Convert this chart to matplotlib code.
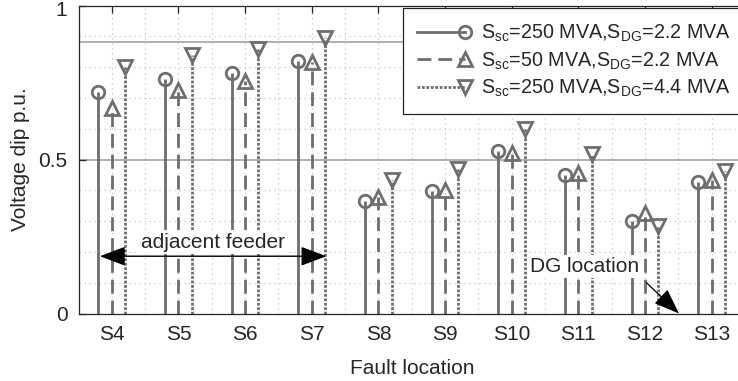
import numpy as np
import matplotlib
matplotlib.use("Agg")
import matplotlib.pyplot as plt
import matplotlib.transforms as mtransforms
from matplotlib.lines import Line2D
from matplotlib.legend_handler import HandlerLine2D

plt.rcParams['font.family'] = ['Liberation Sans', 'DejaVu Sans']
plt.rcParams['mathtext.fontset'] = 'custom'
plt.rcParams['mathtext.rm'] = 'Liberation Sans'
plt.rcParams['mathtext.it'] = 'Liberation Sans:italic'

# Fault locations and voltage dips (p.u.) for the three network cases
locations = ["S4", "S5", "S6", "S7", "S8", "S9", "S10", "S11", "S12", "S13"]
dip_sc250_dg22 = [0.72, 0.762, 0.78, 0.82, 0.366, 0.398, 0.529, 0.45, 0.30, 0.428]
dip_sc50_dg22 = [0.667, 0.726, 0.755, 0.815, 0.379, 0.40, 0.522, 0.457, 0.325, 0.433]
dip_sc250_dg44 = [0.80, 0.84, 0.86, 0.895, 0.435, 0.468, 0.60, 0.518, 0.283, 0.463]
series_labels = [
    r"S$_{\rm sc}$=250 MVA,S$_{\rm DG}$=2.2 MVA",
    r"S$_{\rm sc}$=50 MVA,S$_{\rm DG}$=2.2 MVA",
    r"S$_{\rm sc}$=250 MVA,S$_{\rm DG}$=4.4 MVA",
]
threshold = 0.88

stem_color = "#6e6e6e"
text_color = "#262626"
grid_color = "#c4c4c4"
fs = 15

fig = plt.figure(figsize=(7.38, 3.81), dpi=100)
ax = fig.add_axes([78.5 / 738, 1 - 313.5 / 381, (745 - 78.5) / 738, (313.5 - 5.5) / 381])

x = np.arange(4, 4 + len(locations))
series = [dip_sc250_dg22, dip_sc50_dg22, dip_sc250_dg44]
offsets = [-0.2, 0.0, 0.2]
styles = ["-", (0, (5, 2.5)), (0, (1, 0.6))]
markers = ["o", "^", "v"]
sizes = [9.0, 10.0, 10.0]
lw = 2.0

# grid: dotted minor lines, solid line at 0.5 and a threshold line
for gx in np.arange(3.5, 14.0, 0.5):
    ax.axvline(gx, color=grid_color, lw=0.9, ls=(0, (1, 3)), zorder=0)
for gy in [0.1, 0.2, 0.3, 0.4, 0.6, 0.7, 0.8, 0.9]:
    ax.axhline(gy, color=grid_color, lw=0.9, ls=(0, (1, 3)), zorder=0)
ax.axhline(0.5, color="#9a9a9a", lw=1.1, zorder=0.5)
ax.axhline(threshold, color="#9a9a9a", lw=1.1, zorder=0.5)

handles = []
for vals, off, ls, mk, ms, lab in zip(series, offsets, styles, markers, sizes, series_labels):
    xs = x + off
    ax.vlines(xs, 0, vals, colors=stem_color, linestyles=[ls], lw=lw, zorder=2)
    ax.plot(xs, vals, ls="none", marker=mk, ms=ms, mfc="none", mec=stem_color,
            mew=lw, zorder=3)
    handles.append(Line2D([], [], color=stem_color, ls=ls, lw=lw, marker=mk, ms=ms,
                          mfc="none", mec=stem_color, mew=lw, label=lab))


class StemHandler(HandlerLine2D):
    """Legend entry drawn as a stem: line segment with the marker at its end."""

    def create_artists(self, legend, orig_handle, xdescent, ydescent, width,
                       height, fontsize, trans):
        artists = super().create_artists(legend, orig_handle, xdescent, ydescent,
                                         width, height, fontsize, trans)
        if len(artists) == 1:
            line = artists[0]
            n = len(line.get_xdata())
            line.set_markevery([n - 1])
        else:
            line, marker = artists[0], artists[1]
            xd = line.get_xdata()
            marker.set_xdata([xd[-1]] * len(marker.get_xdata()))
        return artists


leg = ax.legend(handles=handles, loc="upper left", bbox_to_anchor=(402.5 / 738, 1 - 8 / 381),
                bbox_transform=fig.transFigure, fontsize=14.2, frameon=True, fancybox=False,
                edgecolor=text_color, framealpha=1, handlelength=2.4, handletextpad=0.85,
                borderpad=0.75, labelspacing=0.32, borderaxespad=0,
                handler_map={Line2D: StemHandler(numpoints=1)})
leg.get_frame().set_linewidth(0.9)
for t in leg.get_texts():
    t.set_color(text_color)
leg.set_zorder(10)

# annotations
ax.annotate("", xy=(3.82, 0.186), xytext=(7.22, 0.186),
            arrowprops=dict(arrowstyle="<|-|>,head_length=0.8,head_width=0.3",
                            color="black", lw=1.0, mutation_scale=20,
                            shrinkA=0, shrinkB=0), zorder=6)
ax.text(5.52, 0.232, "adjacent feeder", ha="center", va="center", fontsize=fs,
        color=text_color, zorder=6,
        bbox=dict(facecolor="white", edgecolor="none", pad=1.5))
ax.text(11.1, 0.153, "DG location", ha="center", va="center", fontsize=fs,
        color=text_color, zorder=6,
        bbox=dict(facecolor="white", edgecolor="none", pad=1.5))
ax.annotate("", xy=(12.51, 0.0), xytext=(12.02, 0.10),
            arrowprops=dict(arrowstyle="-|>,head_length=0.8,head_width=0.3",
                            color="black", lw=0.9, mutation_scale=20,
                            shrinkA=0, shrinkB=0), zorder=6)

ax.set_xlim(3.5, 13.5)
ax.set_ylim(0, 1)
ax.set_xticks(x)
ax.set_xticklabels(locations)
ax.set_yticks([0, 0.5, 1])
ax.set_yticklabels(["0", "0.5", "1"])
ax.tick_params(direction="in", top=True, right=True, length=5, width=0.9,
               colors=text_color, labelsize=fs, pad=8)
for sp in ax.spines.values():
    sp.set_color(text_color)
    sp.set_linewidth(0.9)
ax.set_xlabel("Fault location", fontsize=fs, color=text_color, labelpad=11)
ax.set_ylabel("Voltage dip p.u.", fontsize=fs, color=text_color, labelpad=6)

# keep the top tick label inside the figure
top_label = ax.get_yticklabels()[-1]
top_label.set_transform(top_label.get_transform()
                        + mtransforms.ScaledTranslation(0, -2.5 / 72, fig.dpi_scale_trans))

fig.savefig("out.png", dpi=100)
